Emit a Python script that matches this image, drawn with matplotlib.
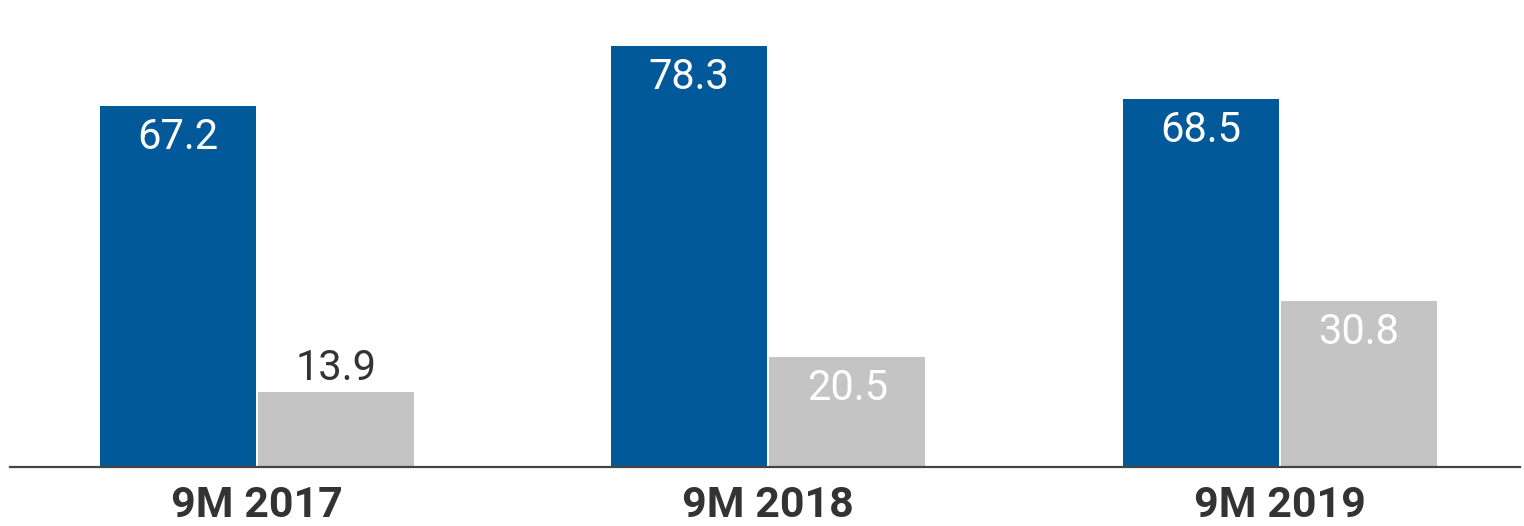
import matplotlib.pyplot as plt
import numpy as np

plt.rcParams['font.family'] = ['Roboto', 'DejaVu Sans']

categories = ['9M 2017', '9M 2018', '9M 2019']
series_a = [67.2, 78.3, 68.5]
series_b = [13.9, 20.5, 30.8]

blue = '#02599A'
grey = '#C4C4C4'
dark = '#333333'

fig = plt.figure(figsize=(15.24, 5.26), dpi=100)
ax = fig.add_axes([10 / 1524, 59 / 526, 1510 / 1524, 447 / 526])

x = np.arange(len(categories))
w = 0.305
off = 0.1546

bars_a = ax.bar(x - off, series_a, w, color=blue)
bars_b = ax.bar(x + off, series_b, w, color=grey)


def label(bars, values, inside_color):
    for b, v in zip(bars, values):
        cx = b.get_x() + b.get_width() / 2
        if v < 15:
            ax.annotate(f'{v:.1f}', (cx, v), xytext=(0, 2), textcoords='offset points',
                        ha='center', va='bottom', fontsize=30, color=dark)
        else:
            ax.annotate(f'{v:.1f}', (cx, v), xytext=(0, -8), textcoords='offset points',
                        ha='center', va='top', fontsize=30, color=inside_color)


label(bars_a, series_a, 'white')
label(bars_b, series_b, 'white')

ax.set_xlim(-0.483, 2.47)
ax.set_ylim(0, 83.1)
ax.set_xticks(x)
ax.set_xticklabels(categories, fontsize=31, fontweight='bold', color=dark)
ax.tick_params(axis='x', length=0, pad=13)
ax.set_yticks([])
for s in ['top', 'left', 'right']:
    ax.spines[s].set_visible(False)
ax.spines['bottom'].set_color('#444444')
ax.spines['bottom'].set_linewidth(1.6)

plt.savefig('out.png', dpi=100)
